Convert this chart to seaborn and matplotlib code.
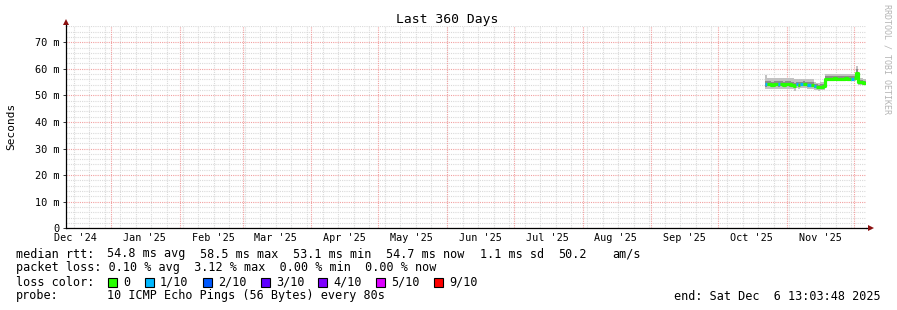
import numpy as np
import pandas as pd
import matplotlib
matplotlib.use("Agg")
import matplotlib.pyplot as plt
import matplotlib.dates as mdates
from matplotlib.patches import Rectangle
from matplotlib.ticker import FuncFormatter, MultipleLocator
import seaborn as sns

# ---------------- data ----------------
start_day = "2025-10-22"
end_time = "2025-12-06 13:03:48"
span_days = 360

median_ms = [54.3, 54.1, 54.2, 54.0, 54.2, 54.3, 54.1, 54.2, 54.0, 54.2, 54.3, 54.1, 54.0,
             53.6,
             54.2, 54.0, 54.1, 54.3, 54.2, 54.0, 53.9, 54.0,
             53.5, 53.3, 53.1, 53.3, 53.6,
             56.2, 56.3, 56.3, 56.2, 56.4, 56.3, 56.3, 56.2, 56.3, 56.4, 56.3, 56.2, 56.3, 56.4,
             58.5,
             55.2, 54.9, 54.8, 54.7]
smoke_lo_ms = [52.4, 52.5, 52.4, 52.3, 52.5, 52.4, 52.4, 52.5, 52.3, 52.4, 52.5, 52.4, 52.3,
               51.5,
               52.6, 52.5, 52.6, 52.7, 52.6, 52.5, 52.4, 52.5,
               52.0, 51.9, 51.8, 51.9, 52.1,
               55.3, 55.4, 55.3, 55.3, 55.4, 55.3, 55.4, 55.3, 55.3, 55.4, 55.3, 55.3, 55.4, 55.4,
               57.0,
               54.0, 53.9, 53.9, 53.9]
smoke_hi_ms = [57.8, 56.6, 56.7, 56.5, 56.6, 56.7, 56.6, 56.5, 56.6, 56.7, 56.6, 56.5, 56.6,
               56.0,
               56.2, 56.1, 56.2, 56.3, 56.2, 56.1, 56.2, 56.2,
               54.9, 54.8, 54.7, 54.9, 55.0,
               58.1, 58.2, 58.1, 58.0, 58.2, 58.1, 58.1, 58.0, 58.1, 58.2, 58.1, 58.0, 58.1, 58.2,
               61.0,
               56.6, 56.4, 56.3, 56.2]
core_lo_ms = [53.3, 53.4, 53.4, 53.3, 53.4, 53.4, 53.3, 53.4, 53.3, 53.4, 53.4, 53.3, 53.3,
              52.6,
              53.4, 53.3, 53.4, 53.5, 53.4, 53.3, 53.2, 53.3,
              52.7, 52.6, 52.5, 52.6, 52.8,
              55.8, 55.8, 55.8, 55.7, 55.9, 55.8, 55.8, 55.7, 55.8, 55.9, 55.8, 55.7, 55.8, 55.9,
              57.8,
              54.5, 54.3, 54.2, 54.2]
core_hi_ms = [55.5, 55.3, 55.4, 55.2, 55.4, 55.5, 55.3, 55.4, 55.2, 55.4, 55.5, 55.3, 55.2,
              54.8,
              55.2, 55.0, 55.1, 55.3, 55.2, 55.0, 54.9, 55.0,
              54.3, 54.1, 54.0, 54.1, 54.4,
              57.3, 57.4, 57.3, 57.2, 57.4, 57.3, 57.3, 57.2, 57.3, 57.4, 57.3, 57.2, 57.3, 57.4,
              59.8,
              55.9, 55.6, 55.5, 55.4]
loss_idx = [1, 0, 0, 0, 0, 0, 1, 0, 0, 0, 0, 0, 0,
            0,
            1, 0, 1, 0, 0, 1, 1, 0,
            1, 0, 0, 0, 0,
            0, 0, 0, 0, 0, 0, 0, 0, 0, 0, 0, 0, 1, 0,
            0,
            0, 0, 0, 0]

loss_labels = ["0", "1/10", "2/10", "3/10", "4/10", "5/10", "9/10"]
loss_colors = ["#26ff00", "#00b8ff", "#0059ff", "#5e00ff", "#7e00ff", "#dd00ff", "#ff0000"]

y_ticks_ms = [0, 10, 20, 30, 40, 50, 60, 70]
y_top_ms = 76.1

title = "Last 360 Days"
y_label = "Seconds"
rtt_stats = ["median rtt:", "54.8 ms avg", "58.5 ms max", "53.1 ms min", "54.7 ms now",
             "1.1 ms sd", "50.2", "am/s"]
loss_line = "packet loss: 0.10 % avg  3.12 % max  0.00 % min  0.00 % now"
probe_text = ["probe:", "10 ICMP Echo Pings (56 Bytes) every 80s"]
end_text = "end: Sat Dec  6 13:03:48 2025"
watermark = "RRDTOOL / TOBI OETIKER"

# ---------------- style ----------------
sns.set_theme(style="white")
plt.rcParams["font.family"] = ["DejaVu Sans Mono", "DejaVu Sans"]
MONO = ["DejaVu Sans Mono", "DejaVu Sans"]

W, H = 897, 310
fig = plt.figure(figsize=(W / 100, H / 100), dpi=100)
fig.patch.set_facecolor("white")


def fx(x):
    return x / W


def fy(y):
    return 1 - y / H


AX_L, AX_R, AX_B, AX_T = 66, 866, 228.3, 26
ax = fig.add_axes([fx(AX_L), fy(AX_B), (AX_R - AX_L) / W, (AX_B - AX_T) / H])
ax.set_facecolor("white")

t_end = pd.Timestamp(end_time)
t_start = t_end - pd.Timedelta(days=span_days)
days = pd.date_range(start_day, periods=len(median_ms), freq="D")
t_ext = list(days) + [t_end]


def ext(a):
    return np.array(list(a) + [a[-1]]) / 1000.0


# smoke
ax.fill_between(t_ext, ext(smoke_lo_ms), ext(smoke_hi_ms), step="post",
                color="#c2c2c2", lw=0, zorder=3)
ax.fill_between(t_ext, ext(core_lo_ms), ext(core_hi_ms), step="post",
                color="#8c8c8c", lw=0, zorder=3.1)

# median coloured by loss
df = pd.DataFrame({"t": days, "rtt": np.array(median_ms) / 1000.0, "loss": loss_idx})
seg_id = (df["loss"] != df["loss"].shift()).cumsum()
parts = []
for s, g in df.groupby(seg_id):
    last = g.index[-1]
    nxt = days[last + 1] if last + 1 < len(days) else t_end
    p = g.copy()
    p["seg"] = s
    extra = pd.DataFrame({"t": [nxt], "rtt": [g["rtt"].iloc[-1]],
                          "loss": [g["loss"].iloc[-1]], "seg": [s]})
    parts += [p, extra]
md = pd.concat(parts, ignore_index=True)
pal = {s: loss_colors[l] for s, l in md.groupby("seg")["loss"].first().items()}
sns.lineplot(data=md, x="t", y="rtt", hue="seg", palette=pal, estimator=None,
             sort=False, legend=False, drawstyle="steps-post", lw=2.3,
             solid_capstyle="butt", ax=ax, zorder=4)

# limits
ax.set_xlim(t_start, t_end)
ax.set_ylim(0, y_top_ms / 1000.0)

# grid: weekly (gray), monthly (red), y minor 2 m gray, major 10 m red
for d in pd.date_range(t_start.normalize(), t_end, freq="W-SUN"):
    if d > t_start:
        ax.axvline(d, color="#dadada", lw=0.8, ls=(0, (1, 1)), zorder=1)
for d in pd.date_range(t_start.normalize() - pd.offsets.MonthBegin(1), t_end, freq="MS"):
    if d > t_start:
        ax.axvline(d, color="#f2a0a0", lw=0.8, ls=(0, (1, 1)), zorder=1.5)

ax.yaxis.set_major_locator(MultipleLocator(0.010))
ax.yaxis.set_minor_locator(MultipleLocator(0.002))
ax.grid(axis="y", which="minor", color="#dadada", lw=0.8, ls=(0, (1, 1)), zorder=1)
ax.grid(axis="y", which="major", color="#f2a0a0", lw=0.8, ls=(0, (1, 1)), zorder=1.5)
ax.grid(axis="x", visible=False)
ax.set_axisbelow(True)

ax.set_yticks([v / 1000.0 for v in y_ticks_ms])
ax.yaxis.set_major_formatter(FuncFormatter(lambda v, p: "0" if abs(v) < 1e-9 else f"{v*1000:.0f} m"))
ax.tick_params(axis="y", which="major", length=2.5, width=0.7, color="#333333", pad=2.2,
               labelsize=7.4, labelcolor="#000000", left=True)
ax.tick_params(axis="y", which="minor", length=0)

ax.xaxis.set_major_locator(mdates.MonthLocator(bymonthday=16))
ax.xaxis.set_major_formatter(mdates.DateFormatter("%b '%y"))
ax.tick_params(axis="x", which="both", length=0, pad=3.2, labelsize=7.3, labelcolor="#000000")
for lab in ax.get_xticklabels() + ax.get_yticklabels():
    lab.set_family(MONO)

ax.set_xlabel("")
ax.set_ylabel("")

for side in ["top", "right"]:
    ax.spines[side].set_visible(False)
for side in ["left", "bottom"]:
    ax.spines[side].set_color("#000000")
    ax.spines[side].set_linewidth(0.9)
    ax.spines[side].set_zorder(6)

# axis arrows
ax.plot([1.0, 1.006], [0, 0], transform=ax.transAxes, color="#000000", lw=0.9, clip_on=False, zorder=6)
ax.plot([1.006], [0], marker=">", ms=4.5, color="#8b1010", transform=ax.transAxes,
        clip_on=False, zorder=7, mew=0)
ax.plot([0, 0], [1.0, 1.015], transform=ax.transAxes, color="#000000", lw=0.9, clip_on=False, zorder=6)
ax.plot([0], [1.018], marker="^", ms=4.5, color="#8b1010", transform=ax.transAxes,
        clip_on=False, zorder=7, mew=0)

# titles
fig.text(fx(447.5), fy(19.5), title, ha="center", va="center", fontsize=9.4, family=MONO, color="#000000")
fig.text(fx(11), fy(126.5), y_label, ha="center", va="center", rotation=90, fontsize=8.0,
         family=MONO, color="#000000")
fig.text(fx(887), fy(4), watermark, ha="center", va="top", rotation=270, fontsize=6.0,
         family=MONO, color="#b4b4b4")

# legend rows
LFS = 8.5
row_y = [254, 268, 282, 296]
rtt_x = [16, 107, 200, 293, 386, 480, 558, 612]
for x, s in zip(rtt_x, rtt_stats):
    fig.text(fx(x), fy(row_y[0]), s, ha="left", va="center", fontsize=LFS, family=MONO, color="#000000")
fig.text(fx(16), fy(row_y[1]), loss_line, ha="left", va="center", fontsize=LFS, family=MONO, color="#000000")
fig.text(fx(16), fy(row_y[2]), "loss color:", ha="left", va="center", fontsize=LFS, family=MONO, color="#000000")
lab_x = [123, 160, 218, 276, 333, 391, 449]
for x, lab, col in zip(lab_x, loss_labels, loss_colors):
    fig.patches.append(Rectangle((fx(x - 15), fy(row_y[2] + 4.5)), 9 / W, 9 / H,
                                 transform=fig.transFigure, facecolor=col,
                                 edgecolor="#000000", lw=0.8))
    fig.text(fx(x), fy(row_y[2]), lab, ha="left", va="center", fontsize=LFS, family=MONO, color="#000000")
fig.text(fx(16), fy(row_y[3]), probe_text[0], ha="left", va="center", fontsize=LFS, family=MONO, color="#000000")
fig.text(fx(107), fy(row_y[3]), probe_text[1], ha="left", va="center", fontsize=LFS, family=MONO, color="#000000")
fig.text(fx(881), fy(row_y[3]), end_text, ha="right", va="center", fontsize=LFS, family=MONO, color="#000000")

fig.savefig("out.png", dpi=100, facecolor="white")
